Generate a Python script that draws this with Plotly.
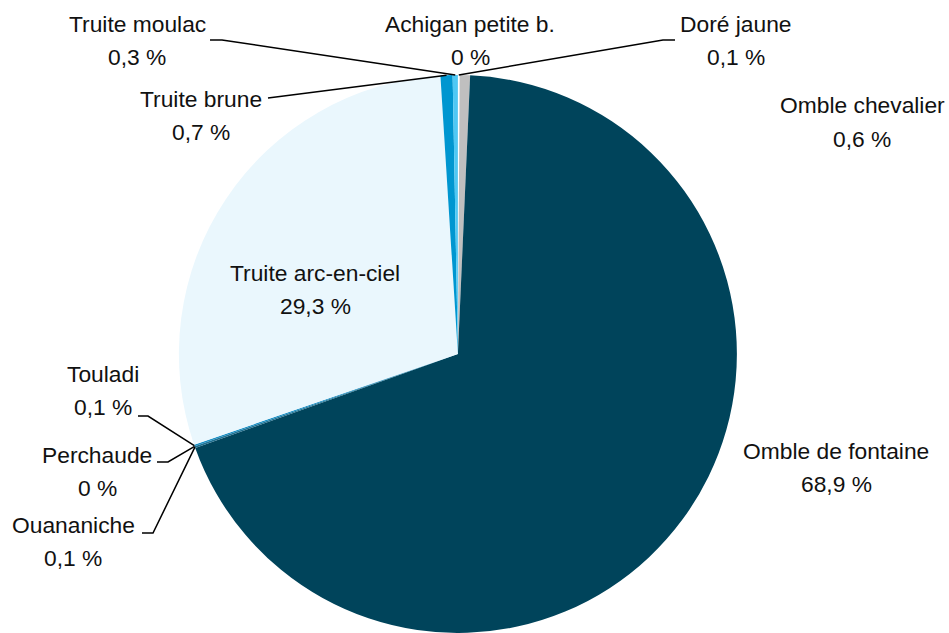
import math
import plotly.graph_objects as go

# ---- data ----
species = ["Achigan petite b.", "Doré jaune", "Omble chevalier", "Omble de fontaine",
           "Ouananiche", "Perchaude", "Touladi", "Truite arc-en-ciel",
           "Truite brune", "Truite moulac"]
shares = [0.0, 0.1, 0.6, 68.9, 0.1, 0.0, 0.1, 29.3, 0.7, 0.3]
value_labels = ["0 %", "0,1 %", "0,6 %", "68,9 %", "0,1 %", "0 %", "0,1 %", "29,3 %", "0,7 %", "0,3 %"]
colors = ["#000000", "#ffffff", "#bfbfbf", "#00445b", "#1f6f8f", "#1f6f8f",
          "#1a8fc4", "#eaf7fd", "#0096d0", "#4fc8f4"]

W, H = 949, 633
FONT = "Liberation Sans, Arial, sans-serif"
FS = 22.8

# pie geometry (layout)
dom_x = [0.18, 0.785]
dom_y = [0.0, 1 - 75 / H]
cx = (dom_x[0] + dom_x[1]) / 2 * W
ph = (dom_y[1] - dom_y[0]) * H
r = ph / 2
cy = H - (dom_y[0] * H) - r

def px(x):
    return x / W

def py(y):
    return 1 - y / H

fig = go.Figure(go.Pie(
    labels=species, values=shares, sort=False, direction="clockwise", rotation=0,
    marker=dict(colors=colors, line=dict(width=0)),
    textinfo="none", hoverinfo="label+percent", showlegend=False,
    domain=dict(x=dom_x, y=dom_y),
))

# label positions (layout, pixel centers)
label_pos = {
    "Truite moulac": (137, 40),
    "Achigan petite b.": (470, 40),
    "Doré jaune": (736, 40),
    "Truite brune": (201, 115),
    "Omble chevalier": (862, 122),
    "Truite arc-en-ciel": (315, 289),
    "Touladi": (103, 390),
    "Perchaude": (97, 471),
    "Ouananiche": (73, 541),
    "Omble de fontaine": (836, 467),
}
LS = 16.5
for name, val in zip(species, value_labels):
    x, y = label_pos[name]
    for txt, yy in ((name, y - LS), (val, y + LS)):
        fig.add_annotation(x=px(x), y=py(yy), xref="paper", yref="paper",
                           text=txt, showarrow=False, xanchor="center", yanchor="middle",
                           font=dict(family=FONT, size=FS, color="#111111"))

# leader lines: start point + elbow (layout) -> slice mid point (from data)
total = sum(shares)
cum = 0.0
mid_frac = {}
for name, v in zip(species, shares):
    mid_frac[name] = (cum + v / 2) / total
    cum += v

leaders = {
    "Truite moulac": [(210, 40), (222, 40)],
    "Truite brune": [(268, 98)],
    "Doré jaune": [(675, 40), (663, 40)],
    "Touladi": [(138, 416), (148, 416)],
    "Perchaude": [(157, 462), (168, 462)],
    "Ouananiche": [(142, 533), (153, 533)],
}
for name, pts in leaders.items():
    ang = mid_frac[name] * 2 * math.pi
    ex = cx + r * math.sin(ang)
    ey = cy - r * math.cos(ang)
    allp = pts + [(ex, ey)]
    path = "M " + " L ".join(f"{px(a):.5f},{py(b):.5f}" for a, b in allp)
    fig.add_shape(type="path", path=path, xref="paper", yref="paper",
                  line=dict(color="#000000", width=1.5))

fig.update_layout(
    width=W, height=H, margin=dict(l=0, r=0, t=0, b=0),
    paper_bgcolor="white", plot_bgcolor="white",
)
fig.write_html("out.html", config={"displayModeBar": False},
               post_script="document.body.style.margin='0';document.body.style.overflow='hidden';")
